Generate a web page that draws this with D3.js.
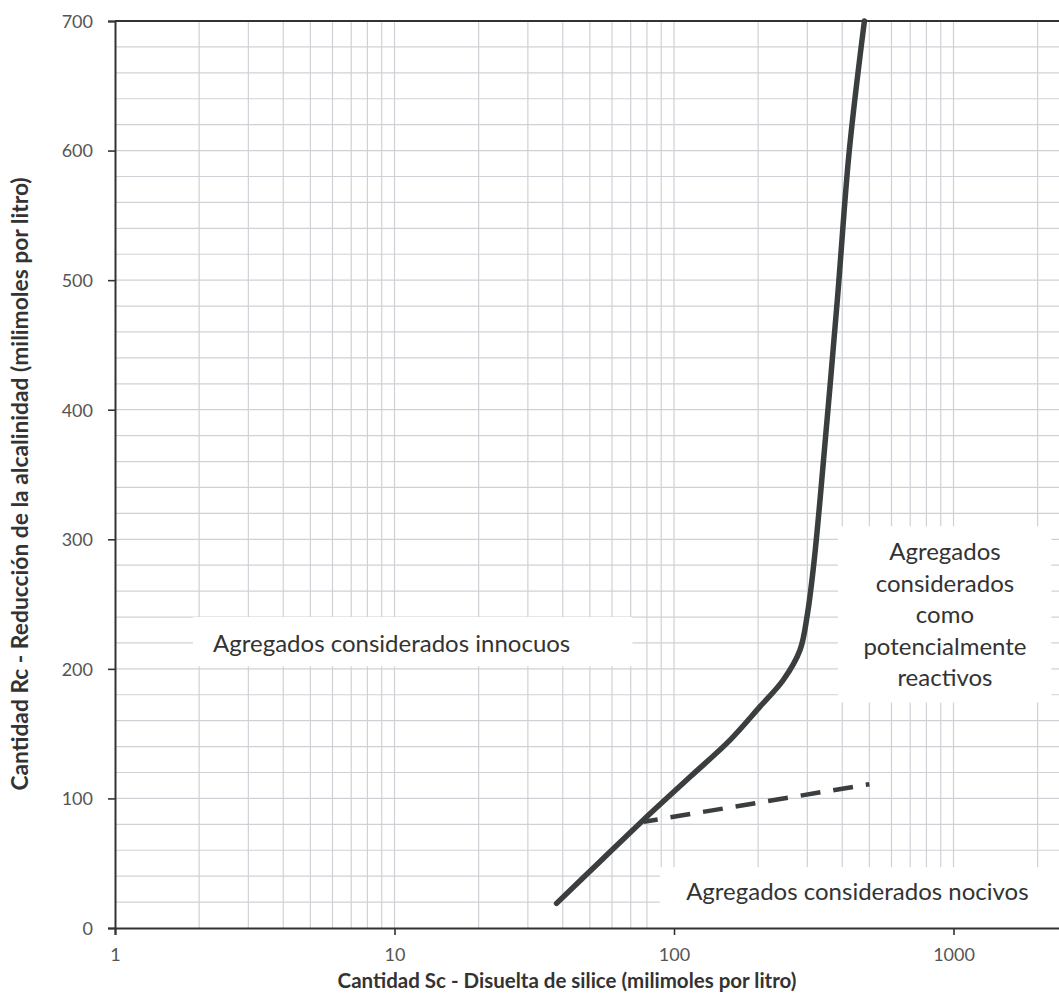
<!DOCTYPE html>
<html>
<head>
<meta charset="utf-8">
<script src="https://cdn.jsdelivr.net/npm/d3@7"></script>
<style>
  html, body { margin: 0; padding: 0; background: #fff; }
  svg { display: block; overflow: hidden; }
</style>
</head>
<body>
<svg id="chart" width="1059" height="1000"></svg>
<script>
// Axis ticks
const xTickValues = [1, 10, 100, 1000];
const xTickLabels = ["1", "10", "100", "1000"];
const yTickValues = [0, 100, 200, 300, 400, 500, 600, 700];

// Limit curve between innocuous and potentially reactive aggregates
const curveSc = [38, 54.4, 77.7, 114, 158.6, 203, 246, 282.4, 300, 316, 333, 384, 424, 480];
const curveRc = [19, 51.3, 83.4, 116.5, 145, 170.8, 191.4, 214.6, 242, 280, 330.3, 484.7, 600.4, 700];

// Dashed boundary of the deleterious zone
const dashSc = [78, 500];
const dashRc = [82, 111];

// Region labels
const labelInnocuos = "Agregados considerados innocuos";
const labelNocivos = "Agregados considerados nocivos";
const labelReactivos = ["Agregados", "considerados", "como", "potencialmente", "reactivos"];

const xTitle = "Cantidad Sc - Disuelta de silice  (milimoles por litro)";
const yTitle = "Cantidad Rc - Reducción de la alcalinidad (milimoles por litro)";

const svg = d3.select("#chart");
const plotLeft = 115, plotTop = 21, plotBottom = 928;
const decade = 279.5;
const xMax = 2400;

const x = d3.scaleLog().domain([1, xMax]).range([plotLeft, plotLeft + decade * Math.log10(xMax)]);
const y = d3.scaleLinear().domain([0, 700]).range([plotBottom, plotTop]);

const FONT = "Lato, 'Open Sans', sans-serif";
const gridColor = "#d0d1d7";

// Log-paper grid: minor lines at 2..9 of each decade, horizontal every 20
const xGrid = [];
for (let p = 0; p <= 3; p++) {
  for (let m = 1; m <= 9; m++) {
    const v = m * Math.pow(10, p);
    if (v > 1 && v < xMax) xGrid.push(v);
  }
}
const yGrid = d3.range(20, 700, 20);

const grid = svg.append("g");
grid.selectAll("line.v").data(xGrid).join("line")
  .attr("class", "v")
  .attr("x1", d => x(d)).attr("x2", d => x(d))
  .attr("y1", y(700)).attr("y2", y(0))
  .attr("stroke", gridColor).attr("stroke-width", 1.2);
grid.selectAll("line.h").data(yGrid).join("line")
  .attr("class", "h")
  .attr("x1", x(1)).attr("x2", x(xMax))
  .attr("y1", d => y(d)).attr("y2", d => y(d))
  .attr("stroke", gridColor).attr("stroke-width", 1.2);

// White backgrounds behind region labels
const boxes = [
  { x0: 1.9, x1: 71, y0: 240, y1: 202 },
  { x0: 386, x1: 2240, y0: 310, y1: 174 },
  { x0: 89, x1: xMax, y0: 47, y1: 0 }
];
svg.append("g").selectAll("rect").data(boxes).join("rect")
  .attr("x", d => x(d.x0)).attr("y", d => y(d.y0))
  .attr("width", d => x(d.x1) - x(d.x0))
  .attr("height", d => y(d.y1) - y(d.y0))
  .attr("fill", "#fff");

// Axes
const xAxis = d3.axisBottom(x).tickValues(xTickValues)
  .tickFormat((d, i) => xTickLabels[i]).tickSize(7).tickPadding(13);
const yAxis = d3.axisLeft(y).tickValues(yTickValues)
  .tickFormat(d3.format("d")).tickSize(7).tickPadding(15);

const gx = svg.append("g").attr("transform", `translate(0,${plotBottom})`).call(xAxis);
const gy = svg.append("g").attr("transform", `translate(${plotLeft},0)`).call(yAxis);
[gx, gy].forEach(g => {
  g.select(".domain").attr("stroke", "#333").attr("stroke-width", 2);
  g.selectAll(".tick line").attr("stroke", "#333").attr("stroke-width", 1.6);
  g.selectAll(".tick text").attr("fill", "#555").style("font-family", FONT).style("font-size", "18px");
});
gy.selectAll(".tick text").attr("dy", "0.35em");

// Top border
svg.append("line")
  .attr("x1", x(1)).attr("x2", x(xMax))
  .attr("y1", y(700)).attr("y2", y(700))
  .attr("stroke", "#333").attr("stroke-width", 2);

// Limit curve
const curvePts = curveSc.map((s, i) => [s, curveRc[i]]);
svg.append("path")
  .datum(curvePts)
  .attr("d", d3.line().x(d => x(d[0])).y(d => y(d[1])).curve(d3.curveCatmullRom.alpha(0.5)))
  .attr("fill", "none")
  .attr("stroke", "#3a3e3f")
  .attr("stroke-width", 5.5)
  .attr("stroke-linecap", "round")
  .attr("stroke-linejoin", "round");

// Dashed boundary (starts mid-dash at the curve, ends in a short dot)
const dashPts = dashSc.map((s, i) => [s, dashRc[i]]);
svg.append("path")
  .datum(dashPts)
  .attr("d", d3.line().x(d => x(d[0])).y(d => y(d[1])))
  .attr("fill", "none")
  .attr("stroke", "#3a3e3f")
  .attr("stroke-width", 4.5)
  .attr("stroke-dasharray", "20,13")
  .attr("stroke-dashoffset", 6);

// Region labels
const labelStyle = sel => sel
  .attr("fill", "#333")
  .attr("text-anchor", "middle")
  .style("font-family", FONT)
  .style("font-size", "24px");

svg.append("text").call(labelStyle)
  .attr("x", x(9.77)).attr("y", y(213))
  .text(labelInnocuos);

svg.append("text").call(labelStyle)
  .attr("x", x(453)).attr("y", y(21.6)).text(labelNocivos);

const reactivos = svg.append("text").call(labelStyle)
  .attr("x", x(932)).attr("y", y(284));
reactivos.selectAll("tspan").data(labelReactivos).join("tspan")
  .attr("x", x(932))
  .attr("dy", (d, i) => i === 0 ? 0 : 31.6)
  .text(d => d);

// Axis titles
svg.append("text")
  .attr("x", 567).attr("y", 988)
  .attr("text-anchor", "middle")
  .attr("fill", "#333")
  .style("font-family", FONT).style("font-size", "20.5px").style("font-weight", "bold")
  .text(xTitle);

svg.append("text")
  .attr("transform", "translate(28,484) rotate(-90)")
  .attr("text-anchor", "middle")
  .attr("fill", "#333")
  .style("font-family", FONT).style("font-size", "22.8px").style("font-weight", "bold")
  .text(yTitle);
</script>
</body>
</html>
